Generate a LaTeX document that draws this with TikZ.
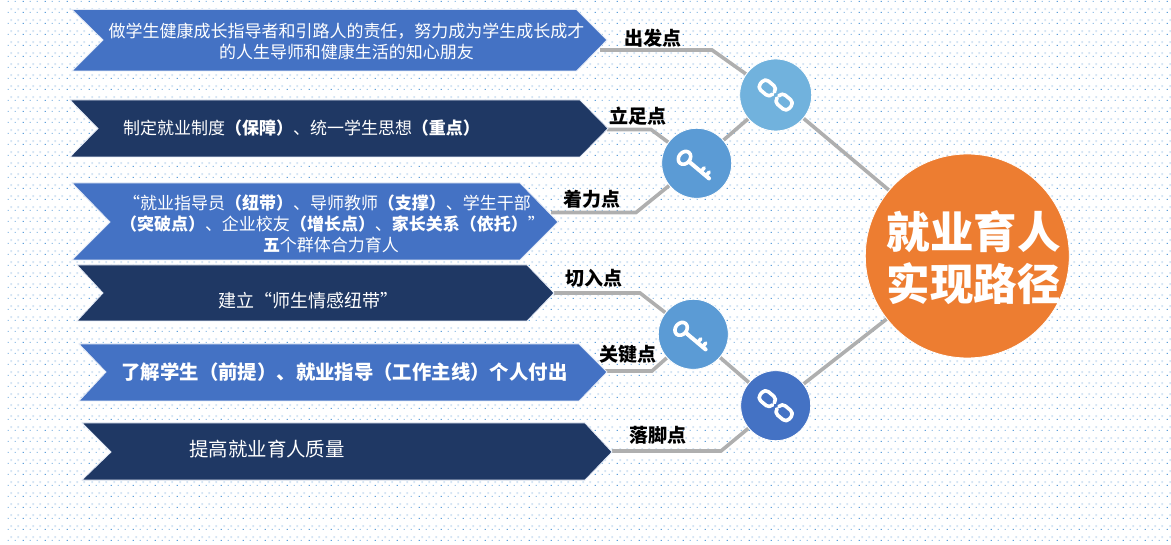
\documentclass[tikz,border=0pt]{standalone}
\usepackage{fontspec}
\setmainfont{Noto Sans CJK SC}
\usetikzlibrary{patterns,backgrounds,calc}
\definecolor{cblue}{HTML}{4472C4}
\definecolor{cnavy}{HTML}{1F3864}
\definecolor{corange}{HTML}{ED7D31}
\definecolor{csky}{HTML}{71B2DD}
\definecolor{ckey}{HTML}{5B9BD5}
\definecolor{cline}{HTML}{AFAFAF}
\definecolor{dotpale}{HTML}{D6E5F4}
\definecolor{dotmid}{HTML}{9CC4E8}
\definecolor{dotdark}{HTML}{5E9FDB}
\pgfdeclarepatterninherentlycolored{bgdots}{\pgfqpoint{0pt}{0pt}}{\pgfqpoint{22pt}{11pt}}{\pgfqpoint{22pt}{11pt}}{
  \pgfsetfillcolor{dotpale}
  \pgfpathrectangle{\pgfqpoint{3.4pt}{7.6pt}}{\pgfqpoint{2pt}{2pt}}
  \pgfpathrectangle{\pgfqpoint{10.73pt}{7.6pt}}{\pgfqpoint{2pt}{2pt}}
  \pgfpathrectangle{\pgfqpoint{18.07pt}{7.6pt}}{\pgfqpoint{2pt}{2pt}}\pgfusepath{fill}
  \pgfsetfillcolor{dotdark}
  \pgfpathrectangle{\pgfqpoint{0.6pt}{4.4pt}}{\pgfqpoint{1.3pt}{1.3pt}}\pgfusepath{fill}
  \pgfsetfillcolor{dotmid}
  \pgfpathrectangle{\pgfqpoint{7.93pt}{4.4pt}}{\pgfqpoint{1.3pt}{1.3pt}}
  \pgfpathrectangle{\pgfqpoint{15.27pt}{4.4pt}}{\pgfqpoint{1.3pt}{1.3pt}}\pgfusepath{fill}
}
\tikzset{
  x=1pt,y=-1pt,
  chev/.style={draw=white!85!cblue,line width=.8pt},
  conn/.style={draw=cline,line width=3.6pt,line join=miter},
  hub/.style={circle,draw=white,line width=.8pt,inner sep=0pt,minimum size=#1},
  body/.style={text=white,align=center,font=\fontsize{17}{21}\selectfont,inner sep=0pt},
  tag/.style={text=black,font=\fontsize{19}{21}\selectfont\bfseries,inner sep=0pt},
  icon/.style={draw=white,line width=3.6pt,line cap=round,line join=round},
  pics/keyicon/.style={code={
    \begin{scope}[shift={(-0.7,4.2)},rotate=-40]
      \draw[icon] (-15,0) ellipse[x radius=5.6,y radius=7];
      \draw[icon,line width=4pt] (-9,0) -- (17,0);
      \draw[icon] (6.5,0) -- (6.5,-5);
      \draw[icon] (13,0) -- (13,-5);
    \end{scope}
  }},
  pics/linkicon/.style={code={
    \begin{scope}[rotate=-40]
      \draw[icon,rounded corners=4.5pt] (-3,-2.4) -- (-3,-6) -- (-19,-6) -- (-19,6) -- (-3,6) -- (-3,2.4);
      \draw[icon,rounded corners=4.5pt] (3,-2.4) -- (3,-6) -- (19,-6) -- (19,6) -- (3,6) -- (3,2.4);
    \end{scope}
  }}
}
\begin{document}
\begin{tikzpicture}
\useasboundingbox (0,0) rectangle (1171,545);
% chevrons
\fill[cblue,chev] (72,9.5) -- (576.5,9.5) -- (607,40) coordinate (t1) -- (576.5,71) -- (72,71) -- (103,40) -- cycle;
\fill[cnavy,chev] (70,100) -- (580,100) -- (608,128.5) coordinate (t2) -- (580,157) -- (70,157) -- (98,128.5) -- cycle;
\fill[cblue,chev] (72,183) -- (520,183) -- (558,222) coordinate (t3) -- (520,260) -- (72,260) -- (110,222) -- cycle;
\fill[cnavy,chev] (77,265) -- (527,265) -- (554,293) coordinate (t4) -- (527,321) -- (77,321) -- (103,293) -- cycle;
\fill[cblue,chev] (79,344) -- (579,344) -- (607,372) coordinate (t5) -- (579,401) -- (79,401) -- (106,372) -- cycle;
\fill[cnavy,chev] (82,423) -- (585,423) -- (612,452) coordinate (t6) -- (585,480) -- (82,480) -- (111,452) -- cycle;
% texts
\node[body] (b1) at (346.5,41) {做学生健康成长指导者和引路人的责任，努力成为学生成长成才\\的人生导师和健康生活的知心朋友};
\node[body] (b2) at (301.5,128.5) {制定就业制度\textbf{（保障）}、统一学生思想\textbf{（重点）}};
\node[body] (b3) at (332.5,223.5) {“就业指导员\textbf{（纽带）}、导师教师\textbf{（支撑）}、学生干部\hspace*{11pt}\\\textbf{（突破点）}、企业校友\textbf{（增长点）}、\textbf{家长关系（依托）}”\\\hspace*{-3pt}\textbf{五}个群体合力育人};
\node[body,font=\fontsize{18}{21}\selectfont] (b4) at (308,301) {建立“师生情感纽带”};
\node[body,font=\fontsize{19.4}{21}\selectfont\bfseries] (b5) at (344.5,372) {了解学生（前提）、就业指导（工作主线）个人付出};
\node[body,font=\fontsize{19.4}{21}\selectfont] (b6) at (267,449) {提高就业育人质量};
% hubs
\node[hub=72,fill=csky] (h1) at (775.7,95) {};
\node[hub=70,fill=ckey] (h2) at (696.7,163.3) {};
\node[hub=70,fill=ckey] (h3) at (693.3,334.3) {};
\node[hub=70,fill=cblue] (h4) at (775.7,405.7) {};
\node[hub=204,fill=corange] (main) at (967.3,256) {};
\node[text=white,align=center,inner sep=0pt,font=\fontsize{43.5}{52}\selectfont\bfseries] (mainlabel) at (973.5,258) {就业育人\\实现路径};
\pic at (h1) {linkicon};
\pic at (h4) {linkicon};
\pic at (h2) {keyicon};
\pic at (h3) {keyicon};
% labels
\node[tag] (l1) at (652.5,38) {出发点};
\node[tag] (l2) at (637.5,116.5) {立足点};
\node[tag] (l3) at (591.5,199) {着力点};
\node[tag] (l4) at (593.5,278) {切入点};
\node[tag] (l5) at (627.5,354) {关键点};
\node[tag] (l6) at (657.5,435) {落脚点};
% elbows
\coordinate (s1) at (600,50);   \coordinate (e1) at (712,50);
\coordinate (s2) at (607,129.5);\coordinate (e2) at (651,129.5);
\coordinate (s3) at (551,212.5);\coordinate (e3) at (636,212.5);
\coordinate (s4) at (554,293);  \coordinate (e4) at (640,293);
\coordinate (s5) at (605,371);  \coordinate (e5) at (652,371);
\coordinate (s6) at (612,451);  \coordinate (e6) at (721,451);
\begin{scope}[on background layer]
  \fill[pattern=bgdots] (7,0) rectangle (1171,545);
  \draw[conn] (s1) -- (e1) -- (h1);
  \draw[conn] (s2) -- (e2) -- (h2);
  \draw[conn] (s3) -- (e3) -- (h2);
  \draw[conn] (s4) -- (e4) -- (h3);
  \draw[conn] (s5) -- (e5) -- (h3);
  \draw[conn] (s6) -- (e6) -- (h4);
  \draw[conn] (h2) -- (h1);
  \draw[conn] (h3) -- (h4);
  \draw[conn] (h1) -- (main);
  \draw[conn] (h4) -- (main);
\end{scope}
\end{tikzpicture}
\end{document}
